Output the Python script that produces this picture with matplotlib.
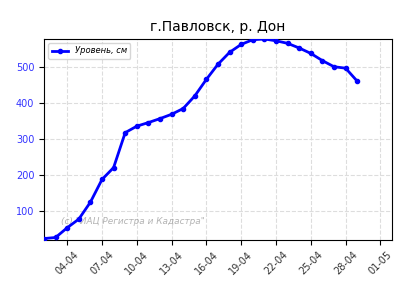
import matplotlib
matplotlib.use('Agg')
import matplotlib.pyplot as plt
import matplotlib.dates as mdates
import pandas as pd

# Daily water level, cm (02-04 .. 29-04)
dates = pd.date_range('2023-04-02', '2023-04-29', freq='D')
levels = [24, 27, 54, 78, 125, 188, 221, 318, 336, 346, 357, 369, 385, 420,
          466, 508, 541, 563, 576, 578, 573, 566, 553, 538, 518, 501, 497, 461]
tick_dates = pd.date_range('2023-04-04', '2023-05-01', freq='3D')

fig = plt.figure(figsize=(4, 3), dpi=100)
ax = fig.add_axes([0.11, 0.2, 0.87, 0.67])

ax.plot(dates, levels, color='blue', linewidth=2, marker='o', markersize=3,
        label='Уровень, см', zorder=3)

ax.set_xlim(pd.Timestamp('2023-04-02'), pd.Timestamp('2023-05-02'))
ax.set_ylim(min(levels) - 4, max(levels))
ax.set_xticks(tick_dates)
ax.xaxis.set_major_formatter(mdates.DateFormatter('%d-%m'))
ax.set_yticks([100, 200, 300, 400, 500])

for lbl in ax.get_xticklabels():
    lbl.set_rotation(45)
    lbl.set_fontsize(7)
    lbl.set_color('#333333')
for lbl in ax.get_yticklabels():
    lbl.set_fontsize(7)
    lbl.set_color('#3333ff')

ax.grid(True, linestyle='--', color='#dddddd', linewidth=0.8)
ax.set_title('г.Павловск, р. Дон', fontsize=10)

ax.legend(loc='upper left', prop={'style': 'italic', 'size': 6}, framealpha=0.8)

ax.text(0.05, 0.08, '(c) "ИАЦ Регистра и Кадастра"', transform=ax.transAxes,
        fontsize=6.4, style='italic', color='gray', alpha=0.6, zorder=2)

fig.savefig('out.png', dpi=100)
